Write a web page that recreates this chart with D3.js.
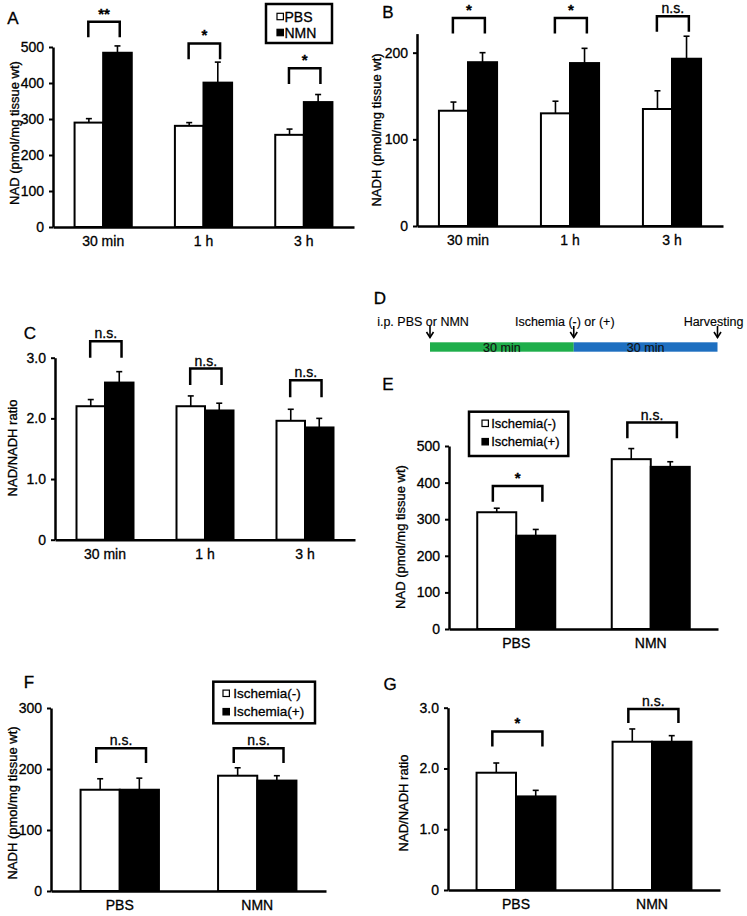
<!DOCTYPE html>
<html><head><meta charset="utf-8">
<script src="https://cdn.jsdelivr.net/npm/d3@7"></script>
<style>
body{margin:0;background:#fff;}
svg{display:block;font-family:"Liberation Sans",Arial,Helvetica,sans-serif;}
svg text{stroke:#000;stroke-width:0.3px;}
svg text.light{stroke:#111;stroke-width:0.15px;}
</style></head><body>
<svg id="chart" width="747" height="916"></svg>
<script>
// ---------------- data ----------------
const timeCategories = ["30 min", "1 h", "3 h"];
const treatmentCategories = ["PBS", "NMN"];
const treatmentSeries = ["PBS", "NMN"];
const ischemiaSeries = ["Ischemia(-)", "Ischemia(+)"];

// A: NAD (pmol/mg tissue wt)
const nadPBS = [290, 281, 256];
const nadPBSErr = [11, 9, 16];
const nadNMN = [484, 401, 347];
const nadNMNErr = [19, 57, 21];
const nadSig = ["**", "*", "*"];
const nadBracket = [[570, 527], [510, 466], [441, 397]];
const nadTicks = [0, 100, 200, 300, 400, 500];

// B: NADH (pmol/mg tissue wt)
const nadhPBS = [133, 130, 135];
const nadhPBSErr = [10, 14, 21];
const nadhNMN = [189, 188, 193];
const nadhNMNErr = [11, 17, 26];
const nadhSig = ["*", "*", "n.s."];
const nadhBracket = [[240, 222], [240, 222], [242, 224]];
const nadhTicks = [0, 100, 200];

// C: NAD/NADH ratio
const ratioPBS = [2.20, 2.20, 1.96];
const ratioPBSErr = [0.11, 0.17, 0.19];
const ratioNMN = [2.59, 2.13, 1.85];
const ratioNMNErr = [0.18, 0.12, 0.15];
const ratioSig = ["n.s.", "n.s.", "n.s."];
const ratioBracket = [[3.27, 3.0], [2.82, 2.55], [2.63, 2.35]];
const ratioTicks = [0, 1, 2, 3];

// D: protocol timeline (minutes)
const timelineSegments = [0, 30, 60];
const timelineSegmentLabels = ["30 min", "30 min"];
const timelineEvents = [0, 30, 60];
const timelineEventLabels = ["i.p. PBS or NMN", "Ischemia (-) or (+)", "Harvesting"];

// E: NAD with ischemia
const eNadNeg = [319, 464];
const eNadNegErr = [11, 29];
const eNadPos = [255, 443];
const eNadPosErr = [17, 14];
const eSig = ["*", "n.s."];
const eBracket = [[391, 348], [564, 521]];

// F: NADH with ischemia
const fNadhNeg = [166, 189];
const fNadhNegErr = [18, 13];
const fNadhPos = [166, 181];
const fNadhPosErr = [19, 8];
const fSig = ["n.s.", "n.s."];
const fBracket = [[234, 210], [234, 210]];
const fTicks = [0, 100, 200, 300];

// G: ratio with ischemia
const gRatioNeg = [1.93, 2.44];
const gRatioNegErr = [0.16, 0.21];
const gRatioPos = [1.54, 2.44];
const gRatioPosErr = [0.10, 0.10];
const gSig = ["*", "n.s."];
const gBracket = [[2.61, 2.36], [2.98, 2.75]];

// ---------------- drawing ----------------
const svg = d3.select("#chart");
const FONT = '"Liberation Sans", Arial, Helvetica, sans-serif';
const fmtInt = d3.format("d");
const fmtRatio = v => v === 0 ? "0" : d3.format(".1f")(v);

function panel(cfg) {
  const g = svg.append("g");
  const x = d3.scaleBand().domain(cfg.categories).range(cfg.xRange)
    .paddingInner(cfg.pad).paddingOuter(cfg.pad / 2);
  const xs = d3.scaleBand().domain(cfg.series).range([0, x.bandwidth()]);
  const y = d3.scaleLinear().domain(cfg.yDomain).range(cfg.yRange);

  const rows = [];
  cfg.categories.forEach((c, i) => {
    cfg.series.forEach((s, j) => {
      rows.push({c, s, j, v: cfg.values[j][i], e: cfg.errors[j][i]});
    });
  });

  // bars
  g.selectAll("rect.bar").data(rows).join("rect")
    .attr("x", d => x(d.c) + xs(d.s))
    .attr("y", d => y(d.v))
    .attr("width", xs.bandwidth())
    .attr("height", d => y(0) - y(d.v))
    .attr("fill", d => d.j === 0 ? "#fff" : "#000")
    .attr("stroke", "#000").attr("stroke-width", 2);

  // error bars (upper only)
  const cap = 3;
  rows.forEach(d => {
    const cx = x(d.c) + xs(d.s) + xs.bandwidth() / 2;
    g.append("line").attr("x1", cx).attr("x2", cx)
      .attr("y1", y(d.v)).attr("y2", y(d.v + d.e))
      .attr("stroke", "#000").attr("stroke-width", 1.6);
    g.append("line").attr("x1", cx - cap).attr("x2", cx + cap)
      .attr("y1", y(d.v + d.e)).attr("y2", y(d.v + d.e))
      .attr("stroke", "#000").attr("stroke-width", 1.6);
  });

  // axes
  const ya = g.append("g").attr("transform", `translate(${cfg.xRange[0]},0)`)
    .call(d3.axisLeft(y).tickValues(cfg.ticks).tickFormat(cfg.fmt)
      .tickSize(4).tickSizeOuter(0).tickPadding(5));
  ya.select(".domain").attr("stroke-width", 2.5);
  ya.selectAll(".tick line").attr("stroke-width", 2);
  ya.selectAll(".tick text").attr("font-size", 14).attr("font-family", FONT).attr("fill", "#000");

  const xa = g.append("g").attr("transform", `translate(0,${y(0)})`)
    .call(d3.axisBottom(x).tickSize(0).tickSizeOuter(0).tickPadding(9));
  xa.select(".domain").attr("stroke-width", 2.5);
  xa.selectAll(".tick text").attr("font-size", 14).attr("font-family", FONT).attr("fill", "#000");

  // significance brackets
  cfg.categories.forEach((c, i) => {
    const bw = xs.bandwidth();
    const xl = x(c) + xs(cfg.series[0]) + bw / 2 - cfg.bOff[0] * bw;
    const xr = x(c) + xs(cfg.series[1]) + bw / 2 + cfg.bOff[1] * bw;
    const [top, leg] = cfg.bracket[i];
    g.append("path")
      .attr("d", `M${xl},${y(leg)}V${y(top)}H${xr}V${y(leg)}`)
      .attr("fill", "none").attr("stroke", "#000").attr("stroke-width", 2.5);
    const lab = cfg.sig[i];
    g.append("text").attr("x", (xl + xr) / 2).attr("y", y(top) - 3)
      .attr("text-anchor", "middle")
      .attr("font-size", lab === "n.s." ? 14 : 15)
      .attr("font-weight", lab === "n.s." ? "normal" : "bold")
      .text(lab);
  });

  // y label
  g.append("text")
    .attr("transform", `translate(${cfg.yLabelPos[0]},${cfg.yLabelPos[1]}) rotate(-90)`)
    .attr("text-anchor", "middle").attr("dominant-baseline", "central")
    .attr("font-size", 13).text(cfg.yLabel);

  // panel letter
  g.append("text").attr("x", cfg.letterPos[0]).attr("y", cfg.letterPos[1])
    .attr("text-anchor", "middle").attr("font-size", 17).text(cfg.letter);

  // legend
  if (cfg.legend) {
    const L = cfg.legend;
    g.append("rect").attr("x", L.x).attr("y", L.y).attr("width", L.w).attr("height", L.h)
      .attr("fill", "#fff").attr("stroke", "#000").attr("stroke-width", 2.5);
    cfg.series.forEach((s, j) => {
      const cy = L.y + L.rows[j];
      g.append("rect").attr("x", L.sx).attr("y", cy - 3.2).attr("width", 6.4).attr("height", 6.4)
        .attr("fill", j === 0 ? "#fff" : "#000").attr("stroke", "#000").attr("stroke-width", 1.2);
      g.append("text").attr("x", L.tx).attr("y", cy).attr("dominant-baseline", "central")
        .attr("font-size", L.fs).text(s);
    });
  }
}

panel({
  letter: "A", letterPos: [13, 24],
  categories: timeCategories, series: treatmentSeries,
  values: [nadPBS, nadNMN], errors: [nadPBSErr, nadNMNErr],
  xRange: [53, 354], pad: 0.43, yDomain: [0, 500], yRange: [227, 47],
  ticks: nadTicks, fmt: fmtInt, sig: nadSig, bracket: nadBracket, bOff: [0.02, 0.08],
  yLabel: "NAD (pmol/mg tissue wt)", yLabelPos: [14, 133],
  legend: {x: 266, y: 4, w: 66, h: 39, rows: [12.5, 28.5], sx: 277, tx: 284.5, fs: 14}
});

panel({
  letter: "B", letterPos: [388, 18],
  categories: timeCategories, series: treatmentSeries,
  values: [nadhPBS, nadhNMN], errors: [nadhPBSErr, nadhNMNErr],
  xRange: [417, 723], pad: 0.43, yDomain: [0, 222], yRange: [226, 33.6],
  ticks: nadhTicks, fmt: fmtInt, sig: nadhSig, bracket: nadhBracket, bOff: [0.02, 0.08],
  yLabel: "NADH (pmol/mg tissue wt)", yLabelPos: [376, 130]
});

panel({
  letter: "C", letterPos: [30, 339],
  categories: timeCategories, series: treatmentSeries,
  values: [ratioPBS, ratioNMN], errors: [ratioPBSErr, ratioNMNErr],
  xRange: [55, 355], pad: 0.43, yDomain: [0, 3], yRange: [539.7, 357.7],
  ticks: ratioTicks, fmt: fmtRatio, sig: ratioSig, bracket: ratioBracket, bOff: [0.02, 0.08],
  yLabel: "NAD/NADH ratio", yLabelPos: [12, 448]
});

panel({
  letter: "E", letterPos: [388, 390],
  categories: treatmentCategories, series: ischemiaSeries,
  values: [eNadNeg, eNadPos], errors: [eNadNegErr, eNadPosErr],
  xRange: [449, 718], pad: 0.42, yDomain: [0, 500], yRange: [629, 446],
  ticks: nadTicks, fmt: fmtInt, sig: eSig, bracket: eBracket, bOff: [0.1, 0.17],
  yLabel: "NAD (pmol/mg tissue wt)", yLabelPos: [400, 537],
  legend: {x: 469, y: 411.7, w: 99.3, h: 44.3, rows: [11.6, 30], sx: 482, tx: 491.2, fs: 13}
});

panel({
  letter: "F", letterPos: [29, 688],
  categories: treatmentCategories, series: ischemiaSeries,
  values: [fNadhNeg, fNadhPos], errors: [fNadhNegErr, fNadhPosErr],
  xRange: [51, 326], pad: 0.43, yDomain: [0, 300], yRange: [891, 708],
  ticks: fTicks, fmt: fmtInt, sig: fSig, bracket: fBracket, bOff: [0.1, 0.17],
  yLabel: "NADH (pmol/mg tissue wt)", yLabelPos: [12, 803],
  legend: {x: 213.3, y: 681.7, w: 101.7, h: 41.6, rows: [11.6, 30], sx: 223, tx: 233.3, fs: 13.5}
});

panel({
  letter: "G", letterPos: [390, 690],
  categories: treatmentCategories, series: ischemiaSeries,
  values: [gRatioNeg, gRatioPos], errors: [gRatioNegErr, gRatioPosErr],
  xRange: [448, 720], pad: 0.42, yDomain: [0, 3], yRange: [890, 707.7],
  ticks: ratioTicks, fmt: fmtRatio, sig: gSig, bracket: gBracket, bOff: [0.1, 0.17],
  yLabel: "NAD/NADH ratio", yLabelPos: [403, 803]
});

// ---------------- D: timeline ----------------
(function () {
  const g = svg.append("g");
  const t = d3.scaleLinear().domain([0, 60]).range([430, 717.5]);
  const barTop = 342.3, barH = 9.4;
  const colors = ["#1fae4b", "#1e6fc0"];
  for (let i = 0; i < timelineSegments.length - 1; i++) {
    const a = timelineSegments[i], b = timelineSegments[i + 1];
    g.append("rect").attr("x", t(a)).attr("y", barTop).attr("width", t(b) - t(a)).attr("height", barH)
      .attr("fill", colors[i]);
    g.append("text").attr("class", "light").attr("x", (t(a) + t(b)) / 2).attr("y", barTop + barH / 2 + 0.5)
      .attr("text-anchor", "middle").attr("dominant-baseline", "central")
      .attr("font-size", 12.5).attr("fill", "#111").text(timelineSegmentLabels[i]);
  }
  const labelShift = [-7, -9, -4];
  timelineEvents.forEach((m, i) => {
    const cx = t(m);
    g.append("line").attr("x1", cx).attr("x2", cx).attr("y1", 326).attr("y2", 337.5)
      .attr("stroke", "#000").attr("stroke-width", 1.6);
    g.append("path").attr("d", `M${cx - 3.5},${332}L${cx},${337.5}L${cx + 3.5},${332}`)
      .attr("fill", "none").attr("stroke", "#000").attr("stroke-width", 1.6);
    g.append("text").attr("class", "light").attr("x", cx + labelShift[i]).attr("y", 326)
      .attr("text-anchor", "middle").attr("font-size", 12.5).text(timelineEventLabels[i]);
  });
  g.append("text").attr("x", 380).attr("y", 304).attr("text-anchor", "middle")
    .attr("font-size", 17).text("D");
})();
</script>
</body></html>
